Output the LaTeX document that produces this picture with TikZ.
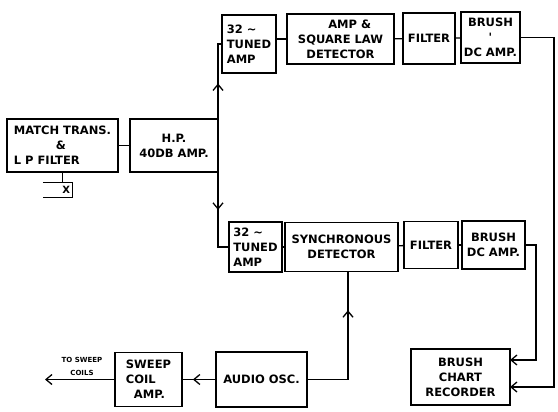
\documentclass[tikz,border=0pt]{standalone}
\usepackage{fontspec}
\newfontfamily\letterfont{DejaVu Sans}
\usetikzlibrary{arrows.meta,positioning,decorations.markings}

\tikzset{
  blk/.style={draw, line width=1.3pt, inner sep=2pt, outer sep=0pt, align=center,
    font={\letterfont\bfseries\fontsize{11.5}{15}\selectfont}},
  wire/.style={line width=1.3pt},
  arrow/.style={wire, -{Straight Barb[length=6pt,width=10pt]}},
  midarrow/.style={wire, postaction={decorate},
    decoration={markings, mark=at position #1 with {\arrow{Straight Barb[length=6pt,width=10pt]}}}},
  smalltext/.style={align=center, inner sep=0pt,
    font={\letterfont\bfseries\fontsize{7}{13}\selectfont}}
}

\begin{document}
\begin{tikzpicture}[x=1pt, y=-1pt]
\useasboundingbox (0,0) rectangle (558,412);

% input side
\node[blk, align=left, minimum width=111pt, minimum height=53pt] (match) at (62.5,145.5) {MATCH TRANS.\\\hspace*{42pt}\&\\L P FILTER};
\node[blk, minimum width=88pt, minimum height=53pt, right=12pt of match] (hp) {H.P.\\40DB AMP.};
\node[smalltext, font={\letterfont\bfseries\fontsize{10}{12}\selectfont}, text width=25pt, align=right, inner sep=2pt, minimum height=14pt] (xterm) at (57.5,190) {X};
\draw[wire] (xterm.north west) -- (xterm.north east) -- (xterm.south east) -- (xterm.south west);
\draw[wire] (match.south) -- (match.south |- xterm.north);

% upper channel
\node[blk, align=left, minimum width=54pt, minimum height=58pt] (tuned1) at (249,44) {32 ∼\\TUNED\\AMP};
\node[blk, minimum width=107pt, minimum height=50pt, right=11pt of tuned1, yshift=5pt] (ampsq) {\hspace*{1.6em}AMP \&\\SQUARE LAW\\DETECTOR};
\node[blk, minimum width=52pt, minimum height=51pt, right=9pt of ampsq, yshift=0.5pt] (filter1) {FILTER};
\node[blk, minimum width=59pt, minimum height=51pt, right=6pt of filter1, yshift=1pt] (brush1) {BRUSH\\'\\DC AMP.};

% lower channel
\node[blk, align=left, minimum width=53pt, minimum height=50pt] (tuned2) at (255.5,247) {32 ∼\\TUNED\\AMP};
\node[blk, minimum width=113pt, minimum height=49pt, right=3pt of tuned2] (sync) {SYNCHRONOUS\\DETECTOR};
\node[blk, minimum width=54pt, minimum height=47pt, right=6pt of sync, yshift=2pt] (filter2) {FILTER};
\node[blk, minimum width=63pt, minimum height=48pt, right=4pt of filter2] (brush2) {BRUSH\\DC AMP.};

% bottom row
\node[blk, minimum width=99pt, minimum height=56pt] (recorder) at (460.5,377) {BRUSH\\CHART\\RECORDER};
\node[blk, minimum width=91pt, minimum height=55pt] (audio) at (261.5,379.5) {AUDIO OSC.};
\node[blk, align=left, minimum width=67pt, minimum height=54pt, left=34pt of audio] (sweep) {SWEEP\\COIL\\\hspace*{8pt}AMP.};
\coordinate[left=70pt of sweep] (coils);
\node[smalltext] (tosweep) at (82,366.5) {TO SWEEP\\COILS};

% connections
\draw[wire] (match) -- (hp);
\draw[midarrow=0.45] (hp.north east) |- (tuned1);
\draw[midarrow=0.44] (hp.south east) |- (tuned2);
\draw[wire] (tuned1.east |- ampsq) -- (ampsq);
\draw[wire] (ampsq) -- (filter1);
\draw[wire] (filter1) -- (brush1);
\draw[wire] (tuned2) -- (sync);
\draw[wire] (sync) -- (filter2);
\draw[wire] (filter2) -- (brush2);
\draw[arrow] (brush1.east) -- ++(34pt,0) |- ([yshift=-10pt]recorder.east);
\draw[arrow] (brush2.east) -- ++(11pt,0) |- ([yshift=17pt]recorder.east);
\draw[midarrow=0.74] (audio.east) -| ([xshift=6.5pt]sync.south);
\draw[midarrow=0.68] (audio) -- (sweep);
\draw[arrow] (sweep) -- (coils);
\end{tikzpicture}
\end{document}
